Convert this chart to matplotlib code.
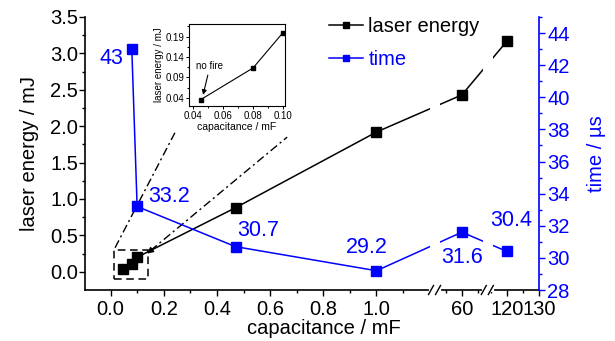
import numpy as np
import matplotlib
matplotlib.use('Agg')
import matplotlib.pyplot as plt
from matplotlib.lines import Line2D
from matplotlib.patches import Rectangle
from matplotlib.transforms import IdentityTransform

plt.rcParams['font.family'] = ['Liberation Sans', 'DejaVu Sans']

# data
cap_energy = [0.045, 0.08, 0.10, 0.47, 1.0, 60, 120]
energy = [0.035, 0.113, 0.20, 0.88, 1.92, 2.43, 3.17]
cap_time = [0.08, 0.10, 0.47, 1.0, 60, 120]
time_us = [43.0, 33.2, 30.7, 29.2, 31.6, 30.4]
time_text = ['43', '33.2', '30.7', '29.2', '31.6', '30.4']
inset_cap = [0.045, 0.08, 0.10]
inset_energy = [0.035, 0.113, 0.20]

xticks = [0.0, 0.2, 0.4, 0.6, 0.8, 1.0, 60, 120, 130]
xticklabels = ['0.0', '0.2', '0.4', '0.6', '0.8', '1.0', '60', '120', '130']
xminor = [0.1, 0.3, 0.5, 0.7, 0.9, 1.1, 55, 65, 115, 125]

# broken x axis: three linear pieces glued together
K = 3.2 / 266.0
eps = 1e-6
XK = [-10.0, 1.22, 51.6, 68.1, 114.0, 1000.0]
UK = [-10.0, 1.22, 1.22 + eps, 1.22 + eps + 16.5 * K,
      1.22 + 2 * eps + 16.5 * K, 1.22 + 2 * eps + 16.5 * K + 886 * K]


def fwd(x):
    return np.interp(x, XK, UK)


def inv(u):
    return np.interp(u, UK, XK)


blue = '#0000ff'
fig = plt.figure(figsize=(6.15, 3.41), dpi=100)
ax = fig.add_axes([85 / 615, 51 / 341, 454 / 615, 273 / 341])
ax.set_xscale('function', functions=(fwd, inv))
ax2 = ax.twinx()
ax2.set_xscale('function', functions=(fwd, inv))

ax.plot(cap_energy, energy, '-s', color='k', lw=1.1, ms=6.5, zorder=2)
ax2.plot(cap_time, time_us, '-s', color=blue, lw=1.1, ms=6.5, zorder=2)

ax.set_xlim(-0.096, 130)
ax.set_ylim(-0.25, 3.5)
ax2.set_ylim(28, 45)

ax.set_xticks(xticks)
ax.set_xticklabels(xticklabels)
ax.set_xticks(xminor, minor=True)
ax.set_yticks(np.arange(0, 3.51, 0.5))
ax.set_yticks(np.arange(0.25, 3.5, 0.5), minor=True)
ax.yaxis.set_major_formatter(matplotlib.ticker.FormatStrFormatter('%.1f'))
ax2.set_yticks(np.arange(28, 45, 2))
ax2.set_yticks(np.arange(29, 46, 2), minor=True)

ax.tick_params(which='major', direction='out', length=4, width=1, labelsize=14.5, pad=1)
ax.tick_params(which='minor', direction='out', length=2.5, width=1)
ax.tick_params(axis='x', which='major', pad=3)
ax2.tick_params(which='major', direction='out', length=4, width=1, labelsize=14.5,
                colors=blue, pad=2)
ax2.tick_params(which='minor', direction='out', length=2.5, width=1, colors=blue)

for s in ['top', 'right']:
    ax.spines[s].set_visible(False)
for s in ['top', 'left', 'bottom']:
    ax2.spines[s].set_visible(False)
ax2.spines['right'].set_color(blue)
for a in (ax, ax2):
    for s in a.spines.values():
        s.set_linewidth(1.2)

ax.set_ylabel('laser energy / mJ', fontsize=14.5, labelpad=8)
ax2.set_ylabel('time / µs', fontsize=14.5, color=blue, labelpad=12)
ax.set_xlabel('capacitance / mF', fontsize=14.5, labelpad=1)
ax.xaxis.set_label_coords(0.527, -0.105, transform=ax.transAxes)

# value labels of the time series
offsets = [(-6, -7, 'right', 'center'), (8, 7, 'left', 'center'),
           (1, 4, 'left', 'bottom'), (-7, 9, 'center', 'bottom'),
           (0, -11, 'center', 'top'), (3, 15, 'center', 'bottom')]
for x, y, t, (dx, dy, ha, va) in zip(cap_time, time_us, time_text, offsets):
    ax2.annotate(t, (x, y), xytext=(dx, dy), textcoords='offset points',
                 ha=ha, va=va, color=blue, fontsize=15.5, zorder=4)

# zoom box and guide lines
ax.add_patch(Rectangle((0.013, -0.10), 0.128, 0.40, fill=False, ls=(0, (5, 3)),
                       lw=1.1, ec='k'))
ax.plot([0.017, 0.242], [0.33, 1.91], color='k', lw=1, dashes=(6, 2.5, 1.5, 2.5))
ax.plot([0.150, 0.664], [0.29, 1.85], color='k', lw=1, dashes=(6, 2.5, 1.5, 2.5))
ax.annotate('', xy=(0.137, 0.25), xytext=(0.165, 0.33),
            arrowprops=dict(arrowstyle='-|>', color='k', lw=1, mutation_scale=9,
                            shrinkA=0, shrinkB=0))

# gaps in the lines at the axis breaks
ax2.axvspan(1.22 - 5 / 266, 51.6 + 5 / 3.2, ymin=0.012, color='white', zorder=2.6, lw=0)
ax2.axvspan(68.1 - 5 / 3.2, 114 + 5 / 3.2, ymin=0.012, color='white', zorder=2.6, lw=0)

# legend
h1 = Line2D([], [], color='k', marker='s', ms=4, lw=1.1)
h2 = Line2D([], [], color=blue, marker='s', ms=4, lw=1.1)
ax2.legend([h1, h2], ['laser energy', 'time'], loc='upper left',
           bbox_to_anchor=(329 / 615, 324 / 341), bbox_transform=fig.transFigure,
           frameon=False, fontsize=14.5, handlelength=1.7, handletextpad=0.25,
           labelspacing=0.7, borderpad=0, borderaxespad=0, numpoints=1,
           labelcolor='linecolor')

# inset
axin = fig.add_axes([189 / 615, 235 / 341, 96 / 615, 82 / 341])
axin.plot(inset_cap, inset_energy, '-s', color='k', lw=0.8, ms=3.5)
axin.set_xlim(0.0373, 0.1013)
axin.set_ylim(0.0196, 0.221)
axin.set_xticks([0.04, 0.06, 0.08, 0.10])
axin.set_xticklabels(['0.04', '0.06', '0.08', '0.10'])
axin.set_xticks([0.05, 0.07, 0.09], minor=True)
axin.set_yticks([0.04, 0.09, 0.14, 0.19])
axin.set_yticks([0.065, 0.115, 0.165, 0.215], minor=True)
axin.tick_params(which='major', direction='out', length=2.5, width=0.7, labelsize=7, pad=1)
axin.tick_params(which='minor', direction='out', length=1.5, width=0.7)
for s in axin.spines.values():
    s.set_linewidth(0.8)
axin.set_xlabel('capacitance / mF', fontsize=7.5, labelpad=0.5)
axin.set_ylabel('laser energy / mJ', fontsize=7, labelpad=1)
axin.annotate('no fire', xy=(0.0467, 0.047), xytext=(0.0513, 0.118),
              ha='center', va='center', fontsize=7,
              arrowprops=dict(arrowstyle='-|>', color='k', lw=0.8, mutation_scale=7,
                              shrinkA=1, shrinkB=0))

# break marks on the bottom axis
for xb in (1.22, 68.1):
    X, Y = ax.transData.transform((xb, -0.25))
    fig.add_artist(Line2D([X - 4, X + 4], [Y, Y], color='white', lw=3,
                          transform=IdentityTransform()))
    for dx in (-4, 3):
        fig.add_artist(Line2D([X + dx - 2.5, X + dx + 2.5], [Y - 4.5, Y + 4.5],
                              color='k', lw=1, transform=IdentityTransform()))

fig.savefig('out.png', dpi=100)
